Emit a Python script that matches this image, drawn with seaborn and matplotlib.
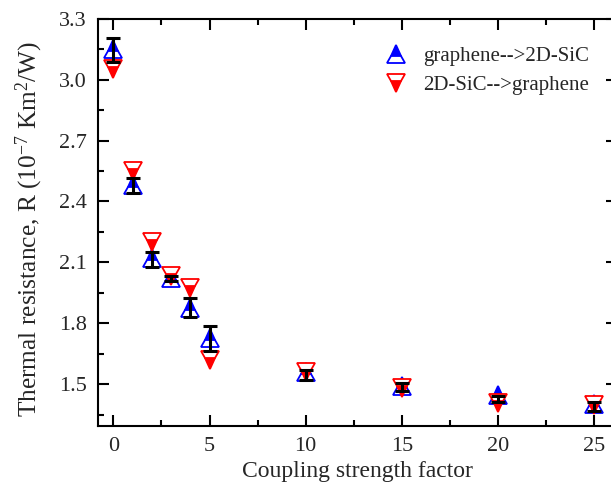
import matplotlib
matplotlib.use("Agg")
import matplotlib.pyplot as plt
from matplotlib.ticker import MultipleLocator
import seaborn as sns
import pandas as pd
import numpy as np

# ---- data ----
coupling = [0, 1, 2, 3, 4, 5, 10, 15, 20, 25]
r_g2s = [3.15, 2.48, 2.12, 2.025, 1.875, 1.73, 1.558, 1.493, 1.447, 1.404]
r_s2g = [3.05, 2.55, 2.20, 2.035, 1.975, 1.62, 1.558, 1.483, 1.41, 1.40]
err_center = [3.147, 2.478, 2.116, 2.02, 1.877, 1.725, 1.546, 1.487, 1.428, 1.39]
err_size = [0.06, 0.038, 0.037, 0.012, 0.046, 0.063, 0.024, 0.018, 0.014, 0.024]
label_g2s = "graphene-->2D-SiC"
label_s2g = "2D-SiC-->graphene"

sns.set_theme(style="ticks")
plt.rcParams["font.family"] = ["Liberation Serif", "DejaVu Serif"]
plt.rcParams["mathtext.fontset"] = "custom"
plt.rcParams["mathtext.rm"] = "Liberation Serif"
plt.rcParams["mathtext.it"] = "Liberation Serif:italic"
plt.rcParams["mathtext.bf"] = "Liberation Serif:bold"

df = pd.DataFrame({"x": coupling, "g2s": r_g2s, "s2g": r_s2g})

fig = plt.figure(figsize=(6.11, 4.97), dpi=100)
ax = fig.add_axes([97.7 / 611, 1 - 425.7 / 497, (616.5 - 97.7) / 611, (425.7 - 18.7) / 497])

ms = 13
sns.lineplot(data=df, x="x", y="g2s", ax=ax, color="blue", linestyle="", marker="^",
             markersize=ms, fillstyle="top", markerfacecoloralt="white",
             markeredgecolor="blue", markeredgewidth=1.3, label=label_g2s, zorder=3)
sns.lineplot(data=df, x="x", y="s2g", ax=ax, color="red", linestyle="", marker="v",
             markersize=ms, fillstyle="bottom", markerfacecoloralt="white",
             markeredgecolor="red", markeredgewidth=1.3, label=label_s2g, zorder=3)

ax.errorbar(coupling, err_center, yerr=err_size, fmt="none", ecolor="black",
            elinewidth=2.2, capsize=4.7, capthick=2.2, zorder=5)

ax.set_xlim(-0.81, 26.15)
ax.set_ylim(1.296, 3.3)
ax.xaxis.set_major_locator(MultipleLocator(5))
ax.xaxis.set_minor_locator(MultipleLocator(2.5))
ax.yaxis.set_major_locator(MultipleLocator(0.3))
ax.yaxis.set_minor_locator(MultipleLocator(0.15))
ax.yaxis.set_major_formatter(matplotlib.ticker.FormatStrFormatter("%.1f"))

ax.tick_params(which="both", direction="in", top=True, right=True, width=1.5, color="black")
ax.tick_params(which="major", length=7.7, labelsize=16, pad=8)
ax.tick_params(which="minor", length=4.3)
for s in ax.spines.values():
    s.set_linewidth(1.5)
    s.set_color("black")

ax.set_xlabel("Coupling strength factor", fontsize=17, labelpad=4)
ax.set_ylabel("Thermal resistance, R (10$^{-7}$ Km$^{2}$/W)", fontsize=18.3)
ax.yaxis.set_label_coords(-0.102, 0.483)

leg = ax.legend(loc="upper right", bbox_to_anchor=(0.971, 0.962), frameon=False, fontsize=15,
                numpoints=1, handlelength=1.2, handletextpad=0.7, labelspacing=0.44,
                borderaxespad=0.2)

fig.savefig("out.png", dpi=100)
